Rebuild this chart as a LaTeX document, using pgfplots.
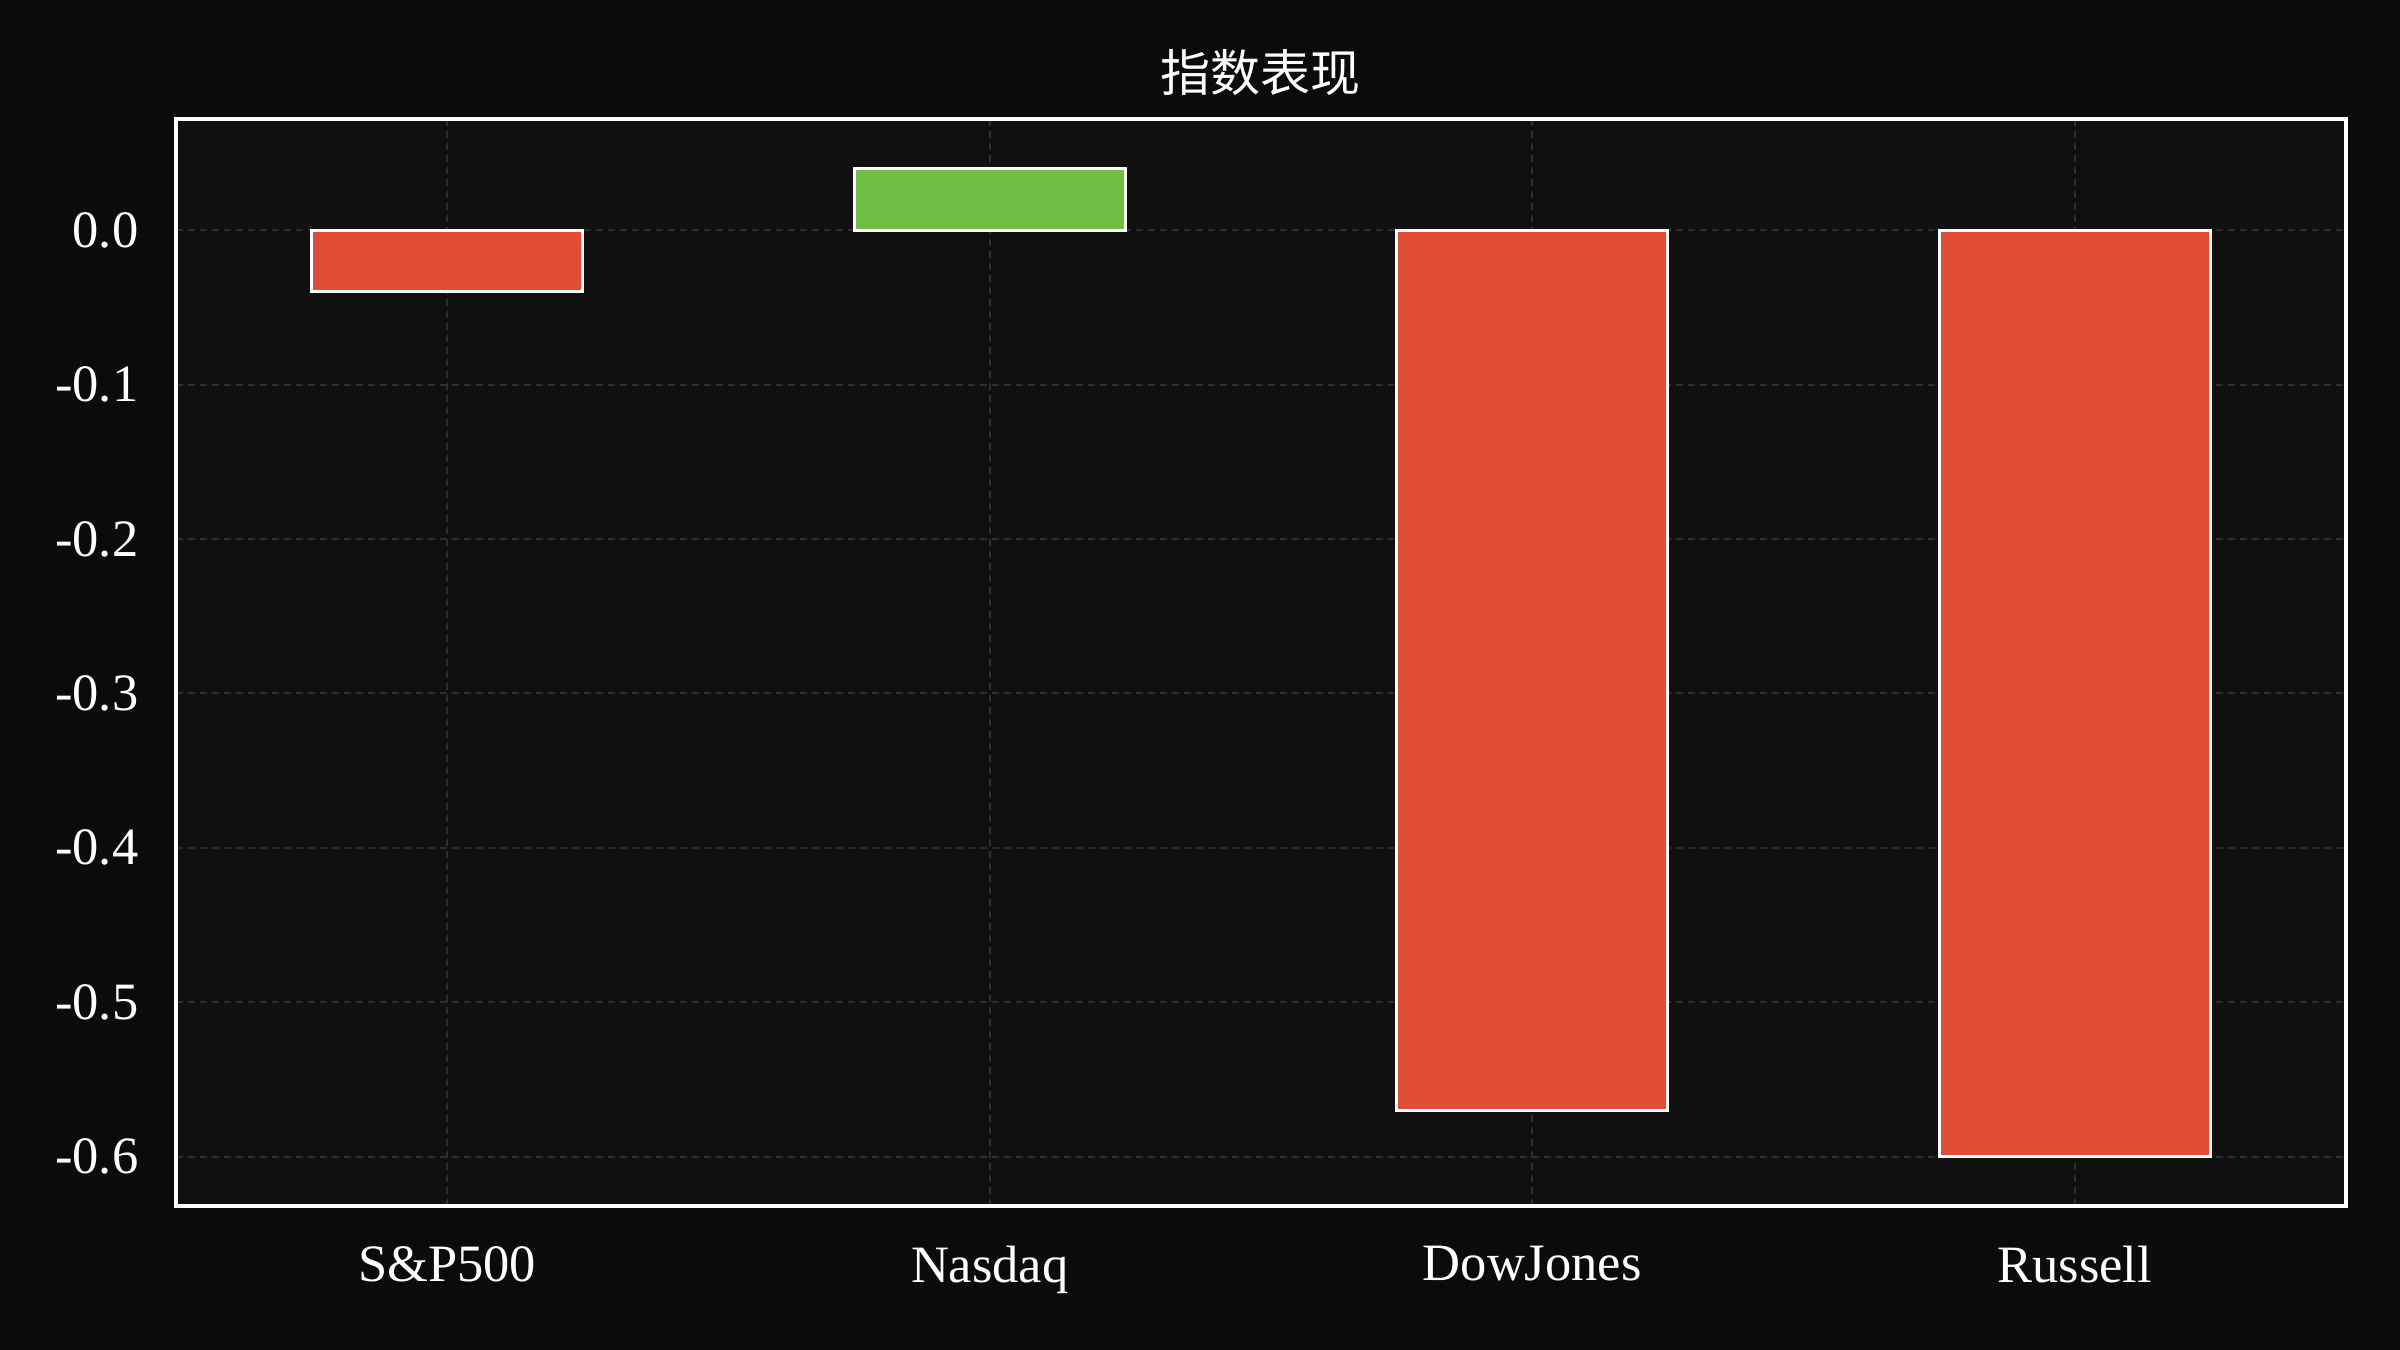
\documentclass[border=0pt]{standalone}
\usepackage{pgfplots}
\pgfplotsset{compat=1.18}
\usepackage{fontspec}
\setmainfont{Liberation Serif}
\newfontfamily\cjk{Noto Sans CJK SC}

\definecolor{pagebg}{HTML}{0B0B0B}
\definecolor{plotbg}{HTML}{101010}
\definecolor{gridcol}{HTML}{2E2E2E}
\definecolor{downred}{HTML}{E34D36}
\definecolor{upgreen}{HTML}{70BF44}

\begin{document}
\begin{tikzpicture}
\useasboundingbox (0,0) rectangle (480pt,270pt);
\fill[pagebg] (0,0) rectangle (480pt,270pt);
\begin{axis}[
    at={(35.2pt,28.8pt)}, anchor=south west,
    width=434pt, height=217.4pt, scale only axis,
    xmin=-0.5, xmax=3.5,
    ymin=-0.632, ymax=0.072,
    xtick={0,1,2,3},
    xticklabels={S\&P500, Nasdaq, DowJones, Russell},
    ytick={-0.6,-0.5,-0.4,-0.3,-0.2,-0.1,0},
    yticklabels={-0.6,-0.5,-0.4,-0.3,-0.2,-0.1,0.0},
    major tick length=0pt,
    tick label style={font=\fontsize{10.5}{12}\selectfont, text=white},
    xticklabel style={yshift=-4.5pt},
    yticklabel style={xshift=-4pt},
    title={\cjk 指数表现},
    title style={text=white, font=\fontsize{10}{12}\selectfont, yshift=-4.9pt},
    grid=major,
    major grid style={gridcol, line width=0.4pt, dash pattern=on 1.4pt off 1pt},
    axis line style={white, line width=0.75pt},
    axis background/.style={fill=plotbg},
]
\addplot[ybar, bar width=0.5, bar shift=0pt, fill=downred, draw=white, line width=0.6pt]
    coordinates {(0,-0.04) (2,-0.57) (3,-0.60)};
\addplot[ybar, bar width=0.5, bar shift=0pt, fill=upgreen, draw=white, line width=0.6pt]
    coordinates {(1,0.04)};
\end{axis}
\end{tikzpicture}
\end{document}
